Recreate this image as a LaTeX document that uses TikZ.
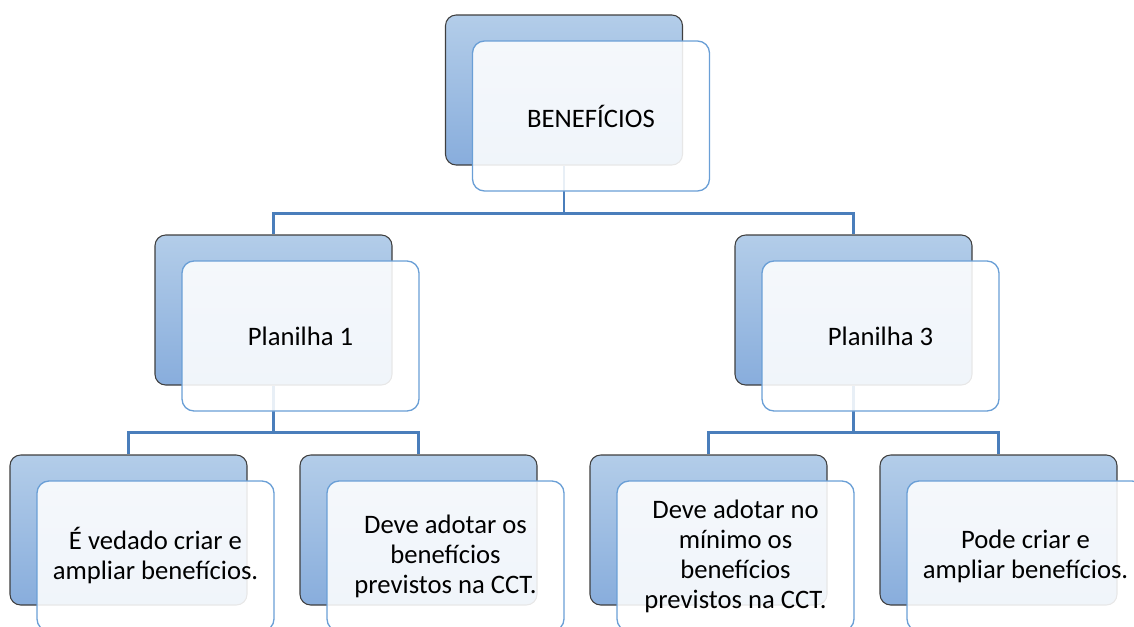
\documentclass[tikz,border=0pt]{standalone}
\usepackage{fontspec}
\setmainfont{Carlito}
\definecolor{backtop}{HTML}{B3CDE9}
\definecolor{backbot}{HTML}{88ADDC}
\definecolor{backline}{HTML}{3F3F3F}
\definecolor{frontline}{HTML}{6A9FD6}
\definecolor{linkblue}{HTML}{4A7EBB}
\tikzset{
  backbox/.style={draw=backline, line width=0.8pt, rounded corners=8pt,
    top color=backtop, bottom color=backbot,
    minimum width=177.75pt, minimum height=112.5pt, inner sep=0pt},
  frontbox/.style={draw=frontline, line width=1pt, rounded corners=9pt,
    fill=white, fill opacity=0.88, text opacity=1,
    minimum width=177.75pt, minimum height=112.5pt, inner sep=0pt,
    align=center, font=\fontsize{20}{22.5}\selectfont},
  link/.style={draw=linkblue, line width=1.8pt}
}
\begin{document}
\begin{tikzpicture}[x=0.75pt,y=-0.75pt]
\useasboundingbox (0,0) rectangle (1134,626);

% Back boxes
\node[backbox] (benB) at (564,90) {};
\node[backbox] (pl1B) at (273.5,310) {};
\node[backbox] (pl3B) at (853.5,310) {};
\node[backbox] (vedB) at (128.5,530) {};
\node[backbox] (cctB) at (418.5,530) {};
\node[backbox] (minB) at (708.5,530) {};
\node[backbox] (podB) at (998.5,530) {};

% Links
\draw[link] (benB.south) -- ++(0,48) coordinate (busTop) -| (pl1B.north);
\draw[link] (busTop) -| (pl3B.north);
\draw[link] (pl1B.south) -- ++(0,47) coordinate (busLeft) -| (vedB.north);
\draw[link] (busLeft) -| (cctB.north);
\draw[link] (pl3B.south) -- ++(0,47) coordinate (busRight) -| (minB.north);
\draw[link] (busRight) -| (podB.north);

% Front boxes
\node[frontbox] (benF) at ([shift={(27,26)}]benB) {BENEFÍCIOS};
\node[frontbox] (pl1F) at ([shift={(27,26)}]pl1B) {Planilha 1};
\node[frontbox] (pl3F) at ([shift={(27,26)}]pl3B) {Planilha 3};
\node[frontbox] (vedF) at ([shift={(27,26)}]vedB) {É vedado criar e\\ampliar benefícios.};
\node[frontbox] (cctF) at ([shift={(27,26)}]cctB) {Deve adotar os\\benefícios\\previstos na CCT.};
\node[frontbox] (minF) at ([shift={(27,26)}]minB) {Deve adotar no\\mínimo os\\benefícios\\previstos na CCT.};
\node[frontbox] (podF) at ([shift={(27,26)}]podB) {Pode criar e\\ampliar benefícios.};
\end{tikzpicture}
\end{document}
